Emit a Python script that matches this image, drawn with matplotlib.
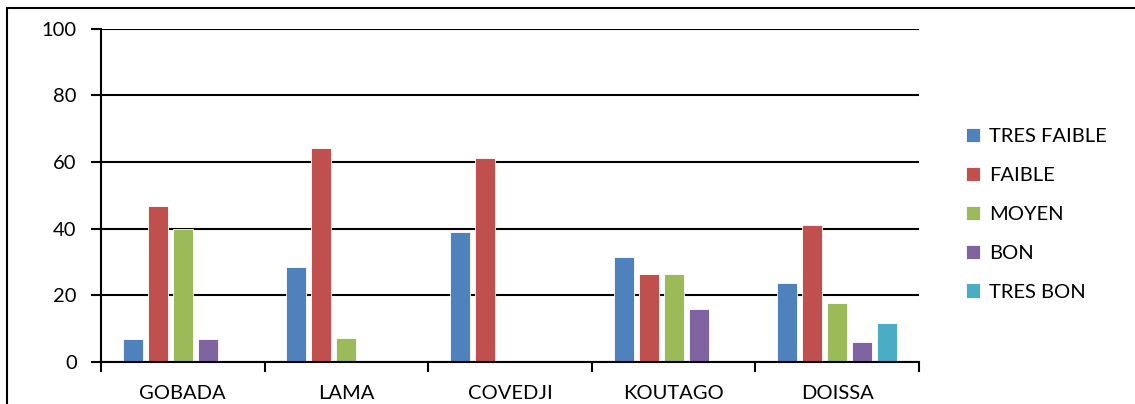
import numpy as np
import matplotlib.pyplot as plt
from matplotlib.patches import Rectangle

plt.rcParams['font.family'] = ['Lato', 'DejaVu Sans']

# villages et niveaux
villages = ['GOBADA', 'LAMA', 'COVEDJI', 'KOUTAGO', 'DOISSA']
niveaux = ['TRES FAIBLE', 'FAIBLE', 'MOYEN', 'BON', 'TRES BON']
couleurs = ['#4F81BD', '#C0504D', '#9BBB59', '#8064A2', '#4BACC6']

tres_faible = [6.67, 28.57, 38.89, 31.58, 23.53]
faible = [46.67, 64.29, 61.11, 26.32, 41.18]
moyen = [40.0, 7.14, 0, 26.32, 17.65]
bon = [6.67, 0, 0, 15.79, 5.88]
tres_bon = [0, 0, 0, 0, 11.76]
series = [tres_faible, faible, moyen, bon, tres_bon]

fig = plt.figure(figsize=(11.35, 4.04), dpi=100)
ax = fig.add_axes([101 / 1135, 1 - 361.7 / 404, 818 / 1135, 333 / 404])

x = np.arange(len(villages))
pas = 0.153
larg = 0.122
for k, (nom, vals, c) in enumerate(zip(niveaux, series, couleurs)):
    v = np.array(vals, dtype=float)
    v[v == 0] = np.nan
    ax.bar(x + (k - 2) * pas, v, width=larg, color=c, edgecolor='white',
           linewidth=0.6, label=nom, zorder=2)

ax.set_xlim(-0.5, 4.5)
ax.set_ylim(0, 100)
ax.set_yticks([0, 20, 40, 60, 80, 100])
ax.set_xticks(x)
ax.set_xticklabels(villages)
ax.set_xticks(np.arange(-0.5, 5, 1), minor=True)
ax.tick_params(axis='x', which='major', length=0, pad=17, labelsize=14.5)
ax.tick_params(axis='x', which='minor', length=7, width=1.5, direction='out')
ax.tick_params(axis='y', length=7, width=1.5, direction='out', pad=10.5, labelsize=14.5)

ax.grid(axis='y', color='black', linewidth=1.5, zorder=1)
ax.set_axisbelow(True)
for s in ['top', 'right']:
    ax.spines[s].set_visible(False)
for s in ['left', 'bottom']:
    ax.spines[s].set_linewidth(1.5)
    ax.spines[s].set_zorder(3)

ax.legend(loc='upper left', bbox_to_anchor=(958 / 1135, 1 - 120 / 404),
          bbox_transform=fig.transFigure, frameon=False, fontsize=14.5,
          handlelength=0.7, handleheight=0.7, handletextpad=0.45,
          labelspacing=1.08, borderaxespad=0)

# cadre du graphique
fig.patches.append(Rectangle((6.7 / 1135, -0.1), 1.2, 1 - 8.3 / 404 + 0.1,
                             transform=fig.transFigure, fill=False,
                             edgecolor='black', linewidth=1.5))

fig.savefig('out.png', dpi=100)
